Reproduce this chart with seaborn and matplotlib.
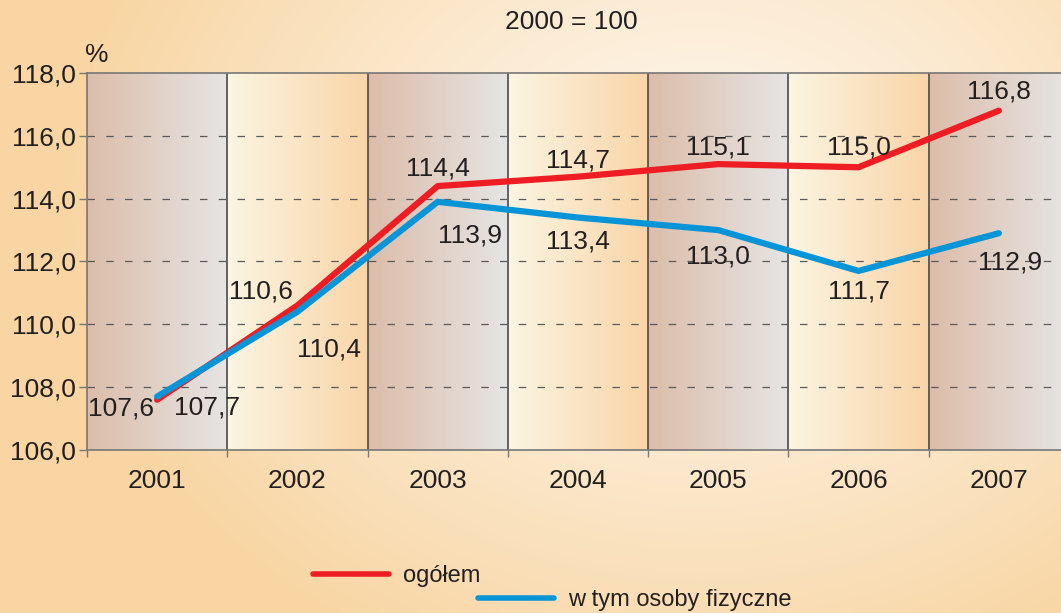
import numpy as np
import pandas as pd
import matplotlib
matplotlib.use("Agg")
import matplotlib.pyplot as plt
import seaborn as sns
from matplotlib.colors import to_rgb, LinearSegmentedColormap
from matplotlib.lines import Line2D

# ---- data ----
years = ["2001", "2002", "2003", "2004", "2005", "2006", "2007"]
ogolem = [107.6, 110.6, 114.4, 114.7, 115.1, 115.0, 116.8]
osoby = [107.7, 110.4, 113.9, 113.4, 113.0, 111.7, 112.9]
yticks = [106.0, 108.0, 110.0, 112.0, 114.0, 116.0, 118.0]
title = "2000 = 100"
unit = "%"
label_ogolem = "ogółem"
label_osoby = "w tym osoby fizyczne"

# label offsets (points) for value annotations
off_ogolem = [(-26, -6), (-26, 10), (0, 13), (0, 12), (0, 12), (0, 14), (0, 14)]
off_osoby = [(36, -8), (23, -27), (23, -24), (0, -17), (0, -19), (0, -15), (8, -21)]

sns.set_theme(style="white")
plt.rcParams["font.family"] = ["Liberation Sans", "DejaVu Sans"]

W, H, DPI = 1061, 613, 100
fig = plt.figure(figsize=(W / DPI, H / DPI), dpi=DPI)

# background gradient
bg = fig.add_axes([0, 0, 1, 1], zorder=-10)
yy, xx = np.mgrid[0:H, 0:W]
d = np.sqrt(((xx - 700) / 650.0) ** 2 + ((yy - 200) / 520.0) ** 2)
d = np.clip(d, 0, 1) ** 1.2
c_in = np.array(to_rgb("#FEF7EE"))
c_out = np.array(to_rgb("#F8D5A2"))
img = c_in[None, None, :] * (1 - d[..., None]) + c_out[None, None, :] * d[..., None]
bg.imshow(img, aspect="auto", extent=[0, 1, 0, 1], origin="upper")
bg.set_axis_off()

left_px, right_px, top_px, bot_px = 87, 1069, 73, 450
ax = fig.add_axes([left_px / W, 1 - bot_px / H, (right_px - left_px) / W, (bot_px - top_px) / H])

n = len(years)
x = np.arange(n)

# alternating gradient bands
odd_cmap = LinearSegmentedColormap.from_list("odd", ["#DCBDAA", "#E6E5E4"])
even_cmap = LinearSegmentedColormap.from_list("even", ["#FBF5E2", "#F9D5A8"])
grad = np.linspace(0, 1, 256)[None, :]
for i in range(n):
    cmap = odd_cmap if i % 2 == 0 else even_cmap
    ax.imshow(grad, cmap=cmap, aspect="auto",
              extent=[i - 0.5, i + 0.5, yticks[0], yticks[-1]], zorder=0)
for i in range(n - 1):
    ax.axvline(i + 0.5, color="#4A4A4A", lw=1.2, zorder=1)

for yt in yticks[1:-1]:
    ax.axhline(yt, color="#5A5A5A", lw=0.9, ls=(0, (6, 9)), zorder=1)

df = pd.DataFrame({"x": np.concatenate([x, x]),
                   "v": ogolem + osoby,
                   "s": [label_ogolem] * n + [label_osoby] * n})
sns.lineplot(data=df, x="x", y="v", hue="s",
             palette={label_ogolem: "#EE1D24", label_osoby: "#0895D8"},
             lw=4.5, ax=ax, legend=False, zorder=3)

for i in range(n):
    ax.annotate(f"{ogolem[i]:.1f}".replace(".", ","), xy=(x[i], ogolem[i]),
                xytext=off_ogolem[i], textcoords="offset points",
                ha="center", va="center", fontsize=19, color="#231F20", zorder=5)
    ax.annotate(f"{osoby[i]:.1f}".replace(".", ","), xy=(x[i], osoby[i]),
                xytext=off_osoby[i], textcoords="offset points",
                ha="center", va="center", fontsize=19, color="#231F20", zorder=5)

ax.set_xlim(-0.5, n - 0.5)
ax.set_ylim(yticks[0], yticks[-1])
ax.set_yticks(yticks)
ax.set_yticklabels([f"{v:.1f}".replace(".", ",") for v in yticks], fontsize=19, color="#231F20")
ax.set_xticks(x)
ax.set_xticklabels(years, fontsize=19, color="#231F20")
ax.set_xticks(np.arange(n + 1) - 0.5, minor=True)
ax.tick_params(axis="y", which="major", length=6, width=1, color="#777777", left=True, pad=2)
ax.tick_params(axis="x", which="major", length=0, pad=14)
ax.tick_params(axis="x", which="minor", length=5, width=1, color="#777777", bottom=True)
ax.set_xlabel("")
ax.set_ylabel("")
for side in ["left", "bottom", "top"]:
    ax.spines[side].set_visible(True)
    ax.spines[side].set_color("#777777")
    ax.spines[side].set_linewidth(1.2)
ax.spines["right"].set_visible(False)

fig.text(571 / W, 1 - 22 / H, title, ha="center", va="center", fontsize=19, color="#231F20")
fig.text(97 / W, 1 - 55 / H, unit, ha="center", va="center", fontsize=19, color="#231F20")

h1 = [Line2D([0], [0], color="#EE1D24", lw=4)]
h2 = [Line2D([0], [0], color="#0895D8", lw=4)]
fig.legend(h1, [label_ogolem], loc="center left", bbox_to_anchor=(313 / W, 1 - 576 / H),
           frameon=False, fontsize=17, handlelength=3.2, handletextpad=0.6,
           borderpad=0, borderaxespad=0, labelcolor="#231F20")
fig.legend(h2, [label_osoby], loc="center left", bbox_to_anchor=(478 / W, 1 - 600 / H),
           frameon=False, fontsize=17, handlelength=3.2, handletextpad=0.6,
           borderpad=0, borderaxespad=0, labelcolor="#231F20")

fig.savefig("out.png", dpi=DPI)
